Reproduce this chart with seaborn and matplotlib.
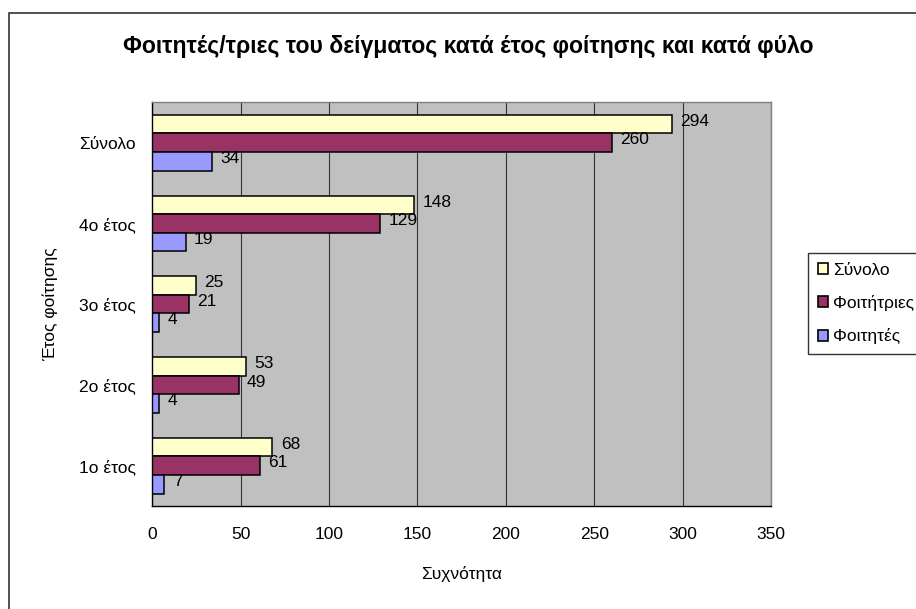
import matplotlib
matplotlib.use("Agg")
import matplotlib.pyplot as plt
import seaborn as sns
import pandas as pd
from matplotlib.patches import Rectangle

years = ["Σύνολο", "4ο έτος", "3ο έτος", "2ο έτος", "1ο έτος"]
series = ["Σύνολο", "Φοιτήτριες", "Φοιτητές"]
total = [294, 148, 25, 53, 68]
female = [260, 129, 21, 49, 61]
male = [34, 19, 4, 4, 7]
colors = ["#FFFFCC", "#993366", "#9999FF"]

rows = []
for i, y in enumerate(years):
    for s, vals in zip(series, [total, female, male]):
        rows.append({"year": y, "series": s, "value": vals[i]})
df = pd.DataFrame(rows)

sns.set_style("white")
plt.rcParams["font.family"] = ["Liberation Sans", "DejaVu Sans"]
plt.rcParams["text.color"] = "black"
plt.rcParams["axes.labelcolor"] = "black"
plt.rcParams["xtick.color"] = "black"
plt.rcParams["ytick.color"] = "black"

fs = 12.5
fig = plt.figure(figsize=(9.16, 6.09), dpi=100)
ax = fig.add_axes([0.166, 0.169, 0.676, 0.663])
ax.set_facecolor("#C0C0C0")

sns.barplot(data=df, y="year", x="value", hue="series", order=years,
            hue_order=series, palette=colors, saturation=1, width=0.69,
            orient="h", edgecolor="black", linewidth=1.1, ax=ax, legend=True)

# value labels, slightly above the bar centre as in the original
for cont in ax.containers:
    for t in ax.bar_label(cont, padding=6, fontsize=fs):
        t.xyann = (6, 2)

ax.set_xlim(0, 350)
ax.set_ylim(4.5, -0.5)
ax.set_xticks(range(0, 351, 50))
ax.grid(axis="x", color="#333333", linewidth=0.8)
ax.set_axisbelow(True)
ax.tick_params(axis="x", length=4, direction="out", pad=11, labelsize=fs)
ax.tick_params(axis="y", which="major", length=0, pad=11.5, labelsize=fs)
ax.set_yticks([i + 0.5 for i in range(-1, 5)], minor=True)
ax.tick_params(axis="y", which="minor", length=4, direction="out")
for side in ["left", "bottom"]:
    ax.spines[side].set_color("black")
    ax.spines[side].set_linewidth(1)
for side in ["top", "right"]:
    ax.spines[side].set_color("#808080")
    ax.spines[side].set_linewidth(1)

ax.set_xlabel("Συχνότητα", fontsize=fs, labelpad=17)
ax.set_ylabel("Έτος φοίτησης", fontsize=fs, labelpad=15)

fig.text(468 / 916, 1 - 47 / 609, "Φοιτητές/τριες του δείγματος κατά έτος φοίτησης και κατά φύλο",
         ha="center", va="center", fontsize=16.6, fontweight="bold")

leg = ax.legend(loc="upper left", bbox_to_anchor=(808 / 916, 1 - 253 / 609),
                bbox_transform=fig.transFigure, frameon=True, fancybox=False,
                edgecolor="black", fontsize=fs, handlelength=0.6,
                handleheight=0.6, handletextpad=0.3, labelspacing=1.0,
                borderpad=0.55, borderaxespad=0)
leg.get_frame().set_linewidth(1)
for h in leg.legend_handles:
    h.set_edgecolor("black")
    h.set_linewidth(1.2)

fig.patches.append(Rectangle((9 / 916, -0.05), 1.2, 1 - 13 / 609 + 0.05,
                             transform=fig.transFigure, fill=False,
                             edgecolor="#333333", linewidth=1.2))

fig.savefig("out.png", dpi=100)
